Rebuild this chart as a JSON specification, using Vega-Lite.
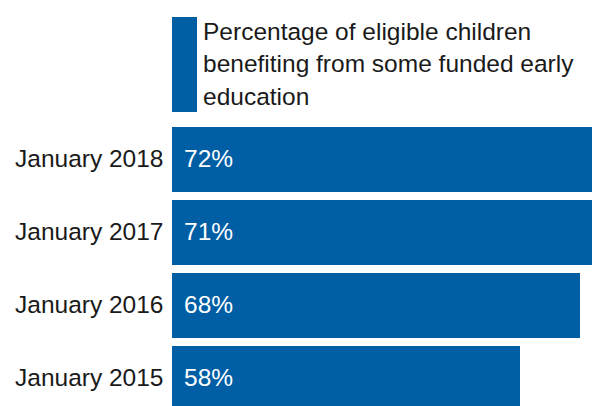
{
  "$schema": "https://vega.github.io/schema/vega-lite/v6.json",
  "autosize": "none",
  "width": 420,
  "height": 292,
  "padding": {"left": 172, "top": 123, "right": 0, "bottom": 0},
  "background": "white",
  "config": {
    "view": {"stroke": null},
    "font": "Liberation Sans",
    "axis": {"labelFont": "Liberation Sans"},
    "legend": {"labelFont": "Liberation Sans"}
  },
  "data": {
    "values": [
      {"period": "January 2018", "value": 72, "label": "72%", "series": "Percentage of eligible children|benefiting from some funded early|education"},
      {"period": "January 2017", "value": 71, "label": "71%", "series": "Percentage of eligible children|benefiting from some funded early|education"},
      {"period": "January 2016", "value": 68, "label": "68%", "series": "Percentage of eligible children|benefiting from some funded early|education"},
      {"period": "January 2015", "value": 58, "label": "58%", "series": "Percentage of eligible children|benefiting from some funded early|education"}
    ]
  },
  "encoding": {
    "y": {
      "field": "period",
      "type": "nominal",
      "sort": ["January 2018", "January 2017", "January 2016", "January 2015"],
      "scale": {"paddingInner": 0.11, "paddingOuter": 0.055},
      "axis": {
        "title": null,
        "ticks": false,
        "domain": false,
        "labelFontSize": 24.5,
        "labelColor": "#1a1a1a",
        "labelPadding": 9,
        "labelLimit": 300
      }
    }
  },
  "layer": [
    {
      "mark": {"type": "bar"},
      "encoding": {
        "x": {
          "field": "value",
          "type": "quantitative",
          "scale": {"domain": [0, 70], "clamp": true, "nice": false},
          "axis": null
        },
        "color": {
          "field": "series",
          "type": "nominal",
          "scale": {"range": ["#005EA5"]},
          "legend": {
            "title": null,
            "orient": "none",
            "legendX": 0,
            "legendY": -103,
            "padding": 0,
            "symbolType": "M-1,-1.24H1V6.36H-1Z",
            "symbolSize": 625,
            "symbolStrokeWidth": 0,
            "symbolOpacity": 1,
            "labelExpr": "split(datum.label, '|')",
            "labelFontSize": 24.5,
            "labelColor": "#1a1a1a",
            "labelOffset": 6,
            "labelLimit": 500,
            "labelBaseline": "middle",
            "encode": {"labels": {"update": {"lineHeight": {"value": 32.5}}}}
          }
        }
      }
    },
    {
      "mark": {"type": "text", "align": "left", "baseline": "middle", "dx": 12, "fontSize": 24.5, "color": "white"},
      "encoding": {
        "x": {"datum": 0, "type": "quantitative"},
        "text": {"field": "label"}
      }
    }
  ]
}
